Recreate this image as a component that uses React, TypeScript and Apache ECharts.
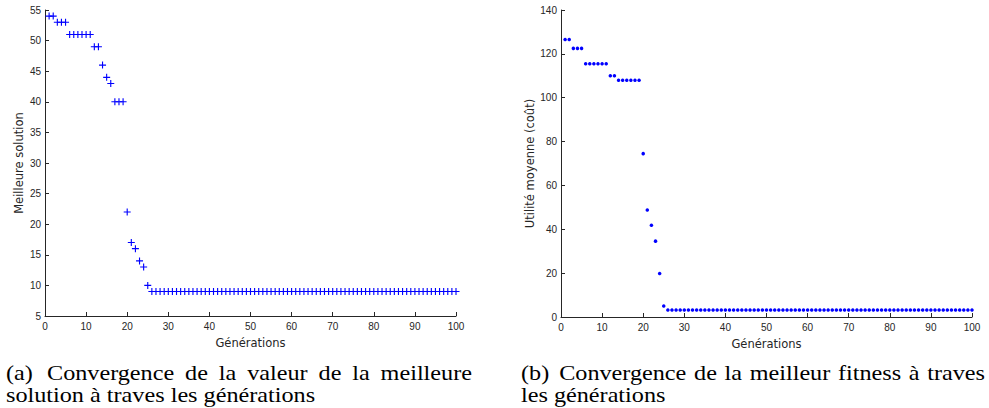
import React, { useEffect, useRef } from "react";
import * as echarts from "echarts";

const generations: number[] = Array.from({ length: 100 }, (_, i) => i + 1);

const bestSolution: number[] = [
  54, 54, 53, 53, 53, 51, 51, 51, 51, 51, 51, 49, 49, 46, 44, 43, 40, 40, 40, 22, 17, 16, 14, 13, 10,
  9, 9, 9, 9, 9, 9, 9, 9, 9, 9, 9, 9, 9, 9, 9, 9, 9, 9, 9, 9, 9, 9, 9, 9, 9,
  9, 9, 9, 9, 9, 9, 9, 9, 9, 9, 9, 9, 9, 9, 9, 9, 9, 9, 9, 9, 9, 9, 9, 9, 9,
  9, 9, 9, 9, 9, 9, 9, 9, 9, 9, 9, 9, 9, 9, 9, 9, 9, 9, 9, 9, 9, 9, 9, 9, 9,
];

const meanFitness: number[] = [
  126.5, 126.5, 122.5, 122.5, 122.5, 115.5, 115.5, 115.5, 115.5, 115.5, 115.5, 110, 110,
  108, 108, 108, 108, 108, 108, 74.5, 48.8, 41.8, 34.6, 19.8, 5,
  3.2, 3.2, 3.2, 3.2, 3.2, 3.2, 3.2, 3.2, 3.2, 3.2, 3.2, 3.2, 3.2, 3.2, 3.2, 3.2, 3.2, 3.2, 3.2, 3.2, 3.2, 3.2, 3.2, 3.2, 3.2,
  3.2, 3.2, 3.2, 3.2, 3.2, 3.2, 3.2, 3.2, 3.2, 3.2, 3.2, 3.2, 3.2, 3.2, 3.2, 3.2, 3.2, 3.2, 3.2, 3.2, 3.2, 3.2, 3.2, 3.2, 3.2,
  3.2, 3.2, 3.2, 3.2, 3.2, 3.2, 3.2, 3.2, 3.2, 3.2, 3.2, 3.2, 3.2, 3.2, 3.2, 3.2, 3.2, 3.2, 3.2, 3.2, 3.2, 3.2, 3.2, 3.2, 3.2,
];

const xAxisName = "Générations";
const leftYName = "Meilleure solution";
const rightYName = "Utilité moyenne (coût)";
const captionALabel = "(a)";
const captionALine1 = "Convergence de la valeur de la meilleure";
const captionALine2 = "solution à traves les générations";
const captionBLabel = "(b)";
const captionBLine1 = "Convergence de la meilleur fitness à traves";
const captionBLine2 = "les générations";

const AXIS_COLOR = "#262626";
const SANS = "Liberation Sans, Arial, sans-serif";
const NAME_FONT = "DejaVu Sans, sans-serif";
const SERIF_FAMILY = "Liberation Serif, Times New Roman, serif";
const CAP_SIZE = 22;
const CAP_SCALE = 1.1;

const PLUS = "path://M4.2,0h1.6v4.2h4.2v1.6h-4.2v4.2h-1.6v-4.2h-4.2v-1.6h4.2z";

function xAxis(gridIndex: number) {
  return {
    type: "value",
    gridIndex,
    min: 0,
    max: 100,
    interval: 10,
    name: xAxisName,
    nameLocation: "middle",
    nameGap: 21,
    nameTextStyle: { color: AXIS_COLOR, fontSize: 11.5, fontFamily: NAME_FONT },
    axisLine: { show: true, lineStyle: { color: AXIS_COLOR, width: 1 } },
    axisTick: { show: true, inside: true, length: 4, lineStyle: { color: AXIS_COLOR } },
    axisLabel: { color: AXIS_COLOR, fontSize: 10, fontFamily: SANS, margin: 5 },
    splitLine: { show: false },
  };
}

function yAxis(gridIndex: number, min: number, max: number, interval: number, name: string, gap: number) {
  return {
    type: "value",
    gridIndex,
    min,
    max,
    interval,
    name,
    nameLocation: "middle",
    nameGap: gap,
    nameTextStyle: { color: AXIS_COLOR, fontSize: 11.5, fontFamily: NAME_FONT },
    axisLine: { show: true, lineStyle: { color: AXIS_COLOR, width: 1 } },
    axisTick: { show: true, inside: true, length: 4, lineStyle: { color: AXIS_COLOR } },
    axisLabel: { color: AXIS_COLOR, fontSize: 10, fontFamily: SANS, margin: 4 },
    splitLine: { show: false },
  };
}

function measure(ctx: CanvasRenderingContext2D | null, s: string): number {
  if (!ctx) return s.length * CAP_SIZE * 0.45;
  return ctx.measureText(s).width;
}

function captionElements(
  ctx: CanvasRenderingContext2D | null,
  label: string,
  line1: string,
  line2: string,
  left: number,
  right: number,
  y1: number,
  y2: number
) {
  const els: any[] = [];
  const style = (text: string) => ({
    text,
    fontFamily: SERIF_FAMILY,
    fontSize: CAP_SIZE,
    fill: "#000",
    verticalAlign: "middle",
    align: "left",
  });
  const words = line1.split(" ");
  const labelW = measure(ctx, label) * CAP_SCALE;
  const widths = words.map((w) => measure(ctx, w) * CAP_SCALE);
  const total = labelW + widths.reduce((a, b) => a + b, 0);
  const free = right - left - total;
  const gap = free / (words.length - 1 + 1.3);
  const labelGap = gap * 1.3;
  els.push({ type: "text", x: left, y: y1, scaleX: CAP_SCALE, style: style(label) });
  let x = left + labelW + labelGap;
  words.forEach((w, i) => {
    els.push({ type: "text", x, y: y1, scaleX: CAP_SCALE, style: style(w) });
    x += widths[i] + gap;
  });
  const words2 = line2.split(" ");
  const space = measure(ctx, " ") * CAP_SCALE;
  let x2 = left;
  words2.forEach((w) => {
    els.push({ type: "text", x: x2, y: y2, scaleX: CAP_SCALE, style: style(w) });
    x2 += measure(ctx, w) * CAP_SCALE + space;
  });
  return els;
}

export default function App() {
  const ref = useRef<HTMLDivElement>(null);
  useEffect(() => {
    if (!ref.current) return;
    const chart = echarts.init(ref.current, null, { renderer: "svg" });
    const canvas = document.createElement("canvas");
    const ctx = canvas.getContext("2d");
    if (ctx) ctx.font = `${CAP_SIZE}px ${SERIF_FAMILY}`;
    chart.setOption({
      animation: false,
      backgroundColor: "#fff",
      grid: [
        { left: 45, top: 10, width: 411, height: 306 },
        { left: 561, top: 10, width: 411, height: 307 },
      ],
      xAxis: [xAxis(0), xAxis(1)],
      yAxis: [
        yAxis(0, 5, 55, 5, leftYName, 20),
        yAxis(1, 0, 140, 20, rightYName, 21),
      ],
      series: [
        {
          type: "scatter",
          xAxisIndex: 0,
          yAxisIndex: 0,
          symbol: PLUS,
          symbolSize: 7,
          itemStyle: { color: "#0000ff", opacity: 1 },
          data: generations.map((g, i) => [g, bestSolution[i]]),
        },
        {
          type: "scatter",
          xAxisIndex: 1,
          yAxisIndex: 1,
          symbol: "circle",
          symbolSize: 3.5,
          itemStyle: { color: "#0000ff", opacity: 1 },
          data: generations.map((g, i) => [g, meanFitness[i]]),
        },
      ],
      graphic: [
        ...captionElements(ctx, captionALabel, captionALine1, captionALine2, 6, 472, 372, 394),
        ...captionElements(ctx, captionBLabel, captionBLine1, captionBLine2, 521, 985, 372, 394),
      ],
    });
    return () => chart.dispose();
  }, []);
  return (
    <div
      ref={ref}
      style={{ position: "fixed", left: 0, top: 0, width: 989, height: 408 }}
    />
  );
}
